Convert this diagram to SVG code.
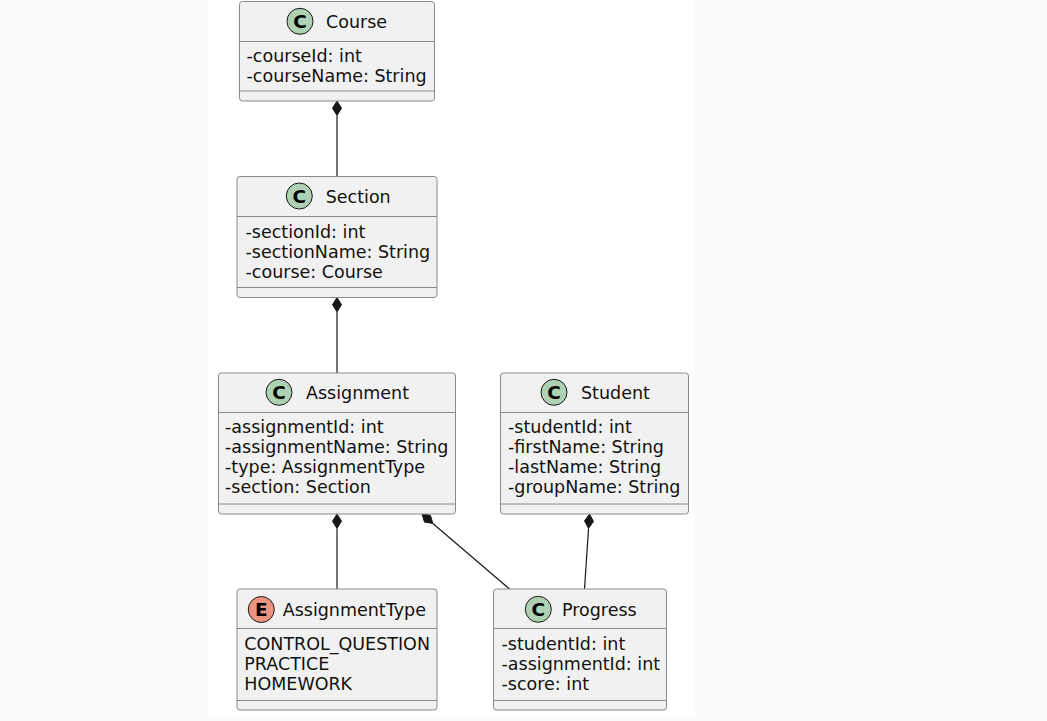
<svg xmlns="http://www.w3.org/2000/svg" width="1047" height="721" viewBox="0 0 1047 721">
<style>
.box{fill:#F1F1F1;stroke:#8a8a8a;stroke-width:1}
.div{stroke:#8a8a8a;stroke-width:1}
.t{font-family:"DejaVu Sans",sans-serif;font-size:17.5px;fill:#111}
.ic{font-family:"DejaVu Sans",sans-serif;font-size:18.5px;font-weight:bold;fill:#000;text-anchor:middle}
.cc{fill:#ADD1B2;stroke:#181818;stroke-width:1}
.ce{fill:#EB937F;stroke:#181818;stroke-width:1}
.ln{stroke:#181818;stroke-width:1.2;fill:none}
.dm{fill:#181818;stroke:#181818;stroke-width:1}
</style>
<rect x="0" y="0" width="1047" height="721" fill="#fbfbfb"/>
<rect x="207" y="0" width="487" height="716" fill="#ffffff"/>
<g id="connectors">
<polygon class="dm" points="337,101 341.5,108.2 337,115.4 332.5,108.2"/>
<line class="ln" x1="337" y1="115.4" x2="337" y2="176"/>
<polygon class="dm" points="337,297.5 341.5,304.7 337,311.9 332.5,304.7"/>
<line class="ln" x1="337" y1="311.9" x2="337" y2="373"/>
<polygon class="dm" points="337,514 341.5,521.2 337,528.4 332.5,521.2"/>
<line class="ln" x1="337" y1="528.4" x2="337" y2="589"/>
<polygon class="dm" points="422,514 430.39,515.32 432.87,523.43 424.49,522.12"/>
<line class="ln" x1="432.87" y1="523.43" x2="509.5" y2="589"/>
<polygon class="dm" points="589.5,514 593.51,521.48 588.54,528.37 584.53,520.88"/>
<line class="ln" x1="588.54" y1="528.37" x2="584.5" y2="589"/>
</g>
<g id="Course">
<rect class="box" x="239.5" y="1.5" width="195" height="99.5" rx="3"/>
<line class="div" x1="239.5" y1="41.5" x2="434.5" y2="41.5"/>
<line class="div" x1="239.5" y1="91" x2="434.5" y2="91"/>
<circle class="cc" cx="300" cy="21.3" r="13"/>
<text class="ic" x="300" y="28">C</text>
<text class="t" x="326" y="27.5">Course</text>
<text class="t" x="246.5" y="62">-courseId: int</text>
<text class="t" x="246.5" y="82">-courseName: String</text>
</g>
<g id="Section">
<rect class="box" x="237" y="176.5" width="200" height="121" rx="3"/>
<line class="div" x1="237" y1="216.5" x2="437" y2="216.5"/>
<line class="div" x1="237" y1="287.5" x2="437" y2="287.5"/>
<circle class="cc" cx="299.3" cy="196" r="13"/>
<text class="ic" x="299.3" y="202.7">C</text>
<text class="t" x="325.7" y="202.5">Section</text>
<text class="t" x="245.5" y="238">-sectionId: int</text>
<text class="t" x="245.5" y="258">-sectionName: String</text>
<text class="t" x="245.5" y="278">-course: Course</text>
</g>
<g id="Assignment">
<rect class="box" x="218.5" y="373" width="237" height="141" rx="3"/>
<line class="div" x1="218.5" y1="412.5" x2="455.5" y2="412.5"/>
<line class="div" x1="218.5" y1="504" x2="455.5" y2="504"/>
<circle class="cc" cx="279" cy="392.3" r="13"/>
<text class="ic" x="279" y="399">C</text>
<text class="t" x="306" y="399">Assignment</text>
<text class="t" x="225" y="433">-assignmentId: int</text>
<text class="t" x="225" y="453">-assignmentName: String</text>
<text class="t" x="225" y="473">-type: AssignmentType</text>
<text class="t" x="225" y="493">-section: Section</text>
</g>
<g id="Student">
<rect class="box" x="500.5" y="373" width="188" height="141" rx="3"/>
<line class="div" x1="500.5" y1="412.5" x2="688.5" y2="412.5"/>
<line class="div" x1="500.5" y1="504" x2="688.5" y2="504"/>
<circle class="cc" cx="554" cy="392.3" r="13"/>
<text class="ic" x="554" y="399">C</text>
<text class="t" x="581" y="399">Student</text>
<text class="t" x="508" y="433">-studentId: int</text>
<text class="t" x="508" y="453">-firstName: String</text>
<text class="t" x="508" y="473">-lastName: String</text>
<text class="t" x="508" y="493">-groupName: String</text>
</g>
<g id="AssignmentType">
<rect class="box" x="237" y="589" width="200" height="121" rx="3"/>
<line class="div" x1="237" y1="628.5" x2="437" y2="628.5"/>
<line class="div" x1="237" y1="700.5" x2="437" y2="700.5"/>
<circle class="ce" cx="261.3" cy="609.5" r="13"/>
<text class="ic" x="261.3" y="616.2">E</text>
<text class="t" x="282.7" y="615.5">AssignmentType</text>
<text class="t" x="244.3" y="649.5">CONTROL_QUESTION</text>
<text class="t" x="244.3" y="669.5">PRACTICE</text>
<text class="t" x="244.3" y="689.5">HOMEWORK</text>
</g>
<g id="Progress">
<rect class="box" x="493.5" y="589" width="173" height="121" rx="3"/>
<line class="div" x1="493.5" y1="628.5" x2="666.5" y2="628.5"/>
<line class="div" x1="493.5" y1="700.5" x2="666.5" y2="700.5"/>
<circle class="cc" cx="538.3" cy="609.3" r="13"/>
<text class="ic" x="538.3" y="616">C</text>
<text class="t" x="562" y="615.5">Progress</text>
<text class="t" x="501.5" y="649.5">-studentId: int</text>
<text class="t" x="501.5" y="669.5">-assignmentId: int</text>
<text class="t" x="501.5" y="689.5">-score: int</text>
</g>
</svg>
